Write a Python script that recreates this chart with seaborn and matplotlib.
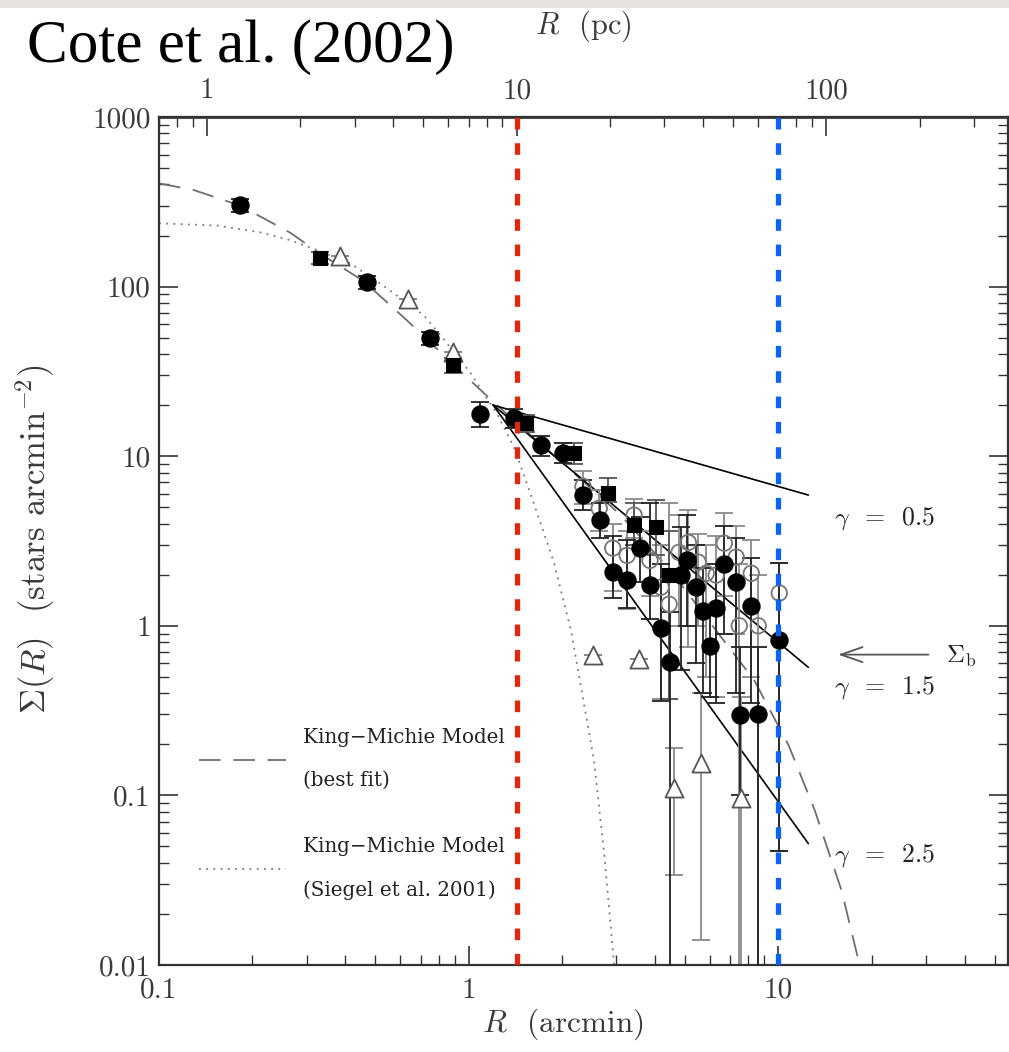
import matplotlib
matplotlib.use("Agg")
import matplotlib.pyplot as plt
import seaborn as sns
import numpy as np
import pandas as pd
from matplotlib.lines import Line2D
from matplotlib.patches import Rectangle

# ---------------- data ----------------
# filled circles (black)
fc_x = [0.183, 0.468, 0.748, 1.085, 1.40, 1.71, 2.01, 2.34, 2.66, 2.92, 3.25, 3.57, 3.85,
        4.18, 4.48, 4.85, 5.08, 5.43, 5.72, 6.03, 6.30, 6.69, 7.31, 8.18, 7.54, 8.61, 10.07]
fc_y = [301, 106, 49.6, 17.7, 16.7, 11.6, 10.5, 5.89, 4.19, 2.07, 1.85, 2.87, 1.73,
        0.97, 0.61, 1.99, 2.43, 1.69, 1.23, 0.757, 1.27, 2.31, 1.81, 1.30, 0.297, 0.30, 0.82]
fc_lo = [275, 97, 45, 14.8, 14.6, 10.0, 9.1, 4.8, 3.3, 1.45, 1.27, 1.8, 1.1,
         0.36, 0.0001, 0.55, 1.0, 0.6, 0.40, 0.38, 0.35, 0.9, 0.4, 0.35, 0.1, 0.0001, 0.047]
fc_hi = [328, 116, 54, 20.8, 19.0, 13.2, 12.0, 7.2, 5.3, 3.4, 3.2, 4.4, 5.3,
         2.3, 1.2, 3.8, 4.5, 3.0, 2.2, 1.3, 2.3, 3.9, 3.3, 2.5, 0.75, 0.75, 2.33]

# filled squares
sq_x = [0.332, 0.887, 1.53, 2.19, 2.82, 3.42, 4.03, 4.44]
sq_y = [147, 34.4, 15.6, 10.4, 6.04, 3.92, 3.81, 1.99]
sq_lo = [135, 31.0, 13.8, 9.0, 5.4, 3.0, 2.6, 0.37]
sq_hi = [160, 38.0, 17.6, 12.0, 7.4, 5.3, 5.5, 3.6]

# open circles
oc_x = [2.34, 2.64, 3.42, 2.92, 3.25, 3.85, 4.18, 4.44, 4.78, 5.12, 5.51, 5.85, 6.30,
        6.69, 7.31, 8.18, 7.48, 8.61, 10.07]
oc_y = [6.65, 4.93, 4.49, 2.87, 2.6, 2.43, 1.69, 1.34, 2.71, 3.1, 2.37, 2.04, 1.99,
        3.07, 2.54, 2.04, 1.0, 1.0, 1.56]
oc_lo = [5.2, 3.6, 3.3, 1.6, 1.25, 1.5, 0.37, 0.37, 1.0, 0.75, 1.0, 0.5, 0.38,
         1.5, 0.9, 0.5, 0.0001, 0.0001, 0.047]
oc_hi = [8.2, 6.3, 5.6, 4.0, 3.6, 3.6, 3.0, 5.3, 4.5, 4.8, 3.5, 3.0, 3.4,
         4.6, 3.9, 3.2, 2.3, 2.0, 2.33]

# open triangles
tr_x = [0.383, 0.635, 0.887, 2.52, 3.55, 4.61, 5.63, 7.59]
tr_y = [151, 84, 41, 0.67, 0.634, 0.110, 0.155, 0.096]
tr_lo = [151, 84, 41, 0.67, 0.634, 0.034, 0.014, 0.0001]
tr_hi = [151, 84, 41, 0.67, 0.634, 0.19, 0.40, 0.38]

# King-Michie model, best fit (dashed)
km_x = [0.1, 0.13, 0.183, 0.265, 0.332, 0.457, 0.616, 0.742, 0.887, 1.15, 1.5, 2.0,
        3.1, 4.5, 6.54, 8.36, 10.8, 13.1, 16.0, 18.3]
km_y = [406, 370, 300, 208, 156, 108, 66, 48, 35, 22.5, 14.5, 9.2,
        4.49, 2.1, 0.857, 0.477, 0.197, 0.082, 0.0275, 0.01]

# King-Michie model, Siegel et al. 2001 (dotted)
ks_x = [0.1, 0.154, 0.212, 0.265, 0.324, 0.415, 0.531, 0.715, 0.83, 1.015, 1.24, 1.40,
        1.56, 1.88, 2.14, 2.54, 2.74, 2.95]
ks_y = [236, 229, 209, 188, 164, 137, 101, 68, 49, 30.8, 17.5, 11.3,
        6.5, 2.4, 0.94, 0.16, 0.045, 0.01]

# power-law slopes (start, end)
pl_x = [1.2, 12.5]
g05_y = [20.0, 5.9]
g15_y = [20.0, 0.569]
g25_y = [20.0, 0.052]
gamma_labels = ["0.5", "1.5", "2.5"]

r_red = 10 / 7.0   # 10 pc
r_blue = 10.0      # 10 arcmin (70 pc)
pc_per_arcmin = 7.0

# ---------------- figure ----------------
sns.set_theme(style="ticks")
plt.rcParams["font.family"] = ["cmr10", "DejaVu Serif"]
plt.rcParams["mathtext.fontset"] = "cm"
plt.rcParams["axes.formatter.use_mathtext"] = True

TXT = "#3a3a3a"
fig = plt.figure(figsize=(10.09, 10.52), dpi=100)
fig.patch.set_facecolor("white")
fig.patches.append(Rectangle((0, 0.992), 1, 0.008, transform=fig.transFigure,
                             facecolor="#e6e3df", edgecolor="none"))
ax = fig.add_axes([0.1576, 0.0827, 0.8410, 0.8061])
ax.set_facecolor("white")
ax.set_xscale("log")
ax.set_yscale("log")
ax.set_xlim(0.1, 55)
ax.set_ylim(0.01, 1000)

# model curves
sns.lineplot(x=km_x, y=km_y, ax=ax, color="#6e6e6e", lw=1.3, sort=False,
             estimator=None, linestyle=(0, (12, 7)))
sns.lineplot(x=ks_x, y=ks_y, ax=ax, color="#777777", lw=1.3, sort=False,
             estimator=None, linestyle=(0, (1, 3)))
for gy in (g05_y, g15_y, g25_y):
    sns.lineplot(x=pl_x, y=gy, ax=ax, color="black", lw=1.2, estimator=None, sort=False)

# vertical reference lines
ax.axvline(r_red, color="#e3260e", lw=3.8, linestyle=(0, (2.2, 2.6)), zorder=6)
ax.axvline(r_blue, color="#0b63f2", lw=3.8, linestyle=(0, (2.2, 2.6)), zorder=6)

def ebar(x, y, lo, hi, color, z):
    y = np.asarray(y); lo = np.asarray(lo); hi = np.asarray(hi)
    ax.errorbar(x, y, yerr=[y - lo, hi - y], fmt="none", ecolor=color,
                elinewidth=1.3, capsize=6.5, capthick=1.3, zorder=z)

ebar(tr_x, tr_y, tr_lo, tr_hi, "#8a8a8a", 2)
ebar(oc_x, oc_y, oc_lo, oc_hi, "#8a8a8a", 2)
ebar(sq_x, sq_y, sq_lo, sq_hi, "#555555", 3)
ebar(fc_x, fc_y, fc_lo, fc_hi, "#222222", 3)

sns.scatterplot(x=tr_x, y=tr_y, ax=ax, marker="^", s=170, facecolor="white",
                edgecolor="#555555", linewidth=1.3, zorder=4)
sns.scatterplot(x=oc_x, y=oc_y, ax=ax, marker="o", s=125, facecolor="none",
                edgecolor="#777777", linewidth=1.3, zorder=4)
sns.scatterplot(x=sq_x, y=sq_y, ax=ax, marker="s", s=95, color="black",
                edgecolor="black", zorder=5)
sns.scatterplot(x=fc_x, y=fc_y, ax=ax, marker="o", s=150, color="black",
                edgecolor="black", zorder=5)

# legend for models
handles = [Line2D([], [], color="#6e6e6e", lw=1.3, linestyle=(0, (12, 7))),
           Line2D([], [], color="#777777", lw=1.3, linestyle=(0, (1, 3)))]
labels = ["King\u2212Michie Model\n(best fit)", "King\u2212Michie Model\n(Siegel et al. 2001)"]
leg = ax.legend(handles, labels, loc="upper left", bbox_to_anchor=(0.026, 0.30),
                frameon=False, handlelength=4.4, handletextpad=0.85, labelspacing=2.4,
                prop={"family": ["DejaVu Serif"], "size": 14.3})
for t in leg.get_texts():
    t.set_linespacing(2.55)
    t.set_color("#222222")

# gamma labels and Sigma_b arrow
gy_frac = [0.527, 0.327, 0.129]
for lab, yf in zip(gamma_labels, gy_frac):
    ax.text(0.796, yf, r"$\gamma$  =  " + lab, transform=ax.transAxes, fontsize=18.5,
            va="center", ha="left", color="#222222")
ax.annotate("", xy=(0.797, 0.366), xytext=(0.910, 0.366), xycoords="axes fraction",
            arrowprops=dict(arrowstyle="->,head_length=1.3,head_width=0.45",
                            color="#555555", lw=1.3))
ax.text(0.928, 0.364, r"$\Sigma_{\rm b}$", transform=ax.transAxes, fontsize=18,
        va="center", ha="left", color="#222222")

# axes style
for sp in ax.spines.values():
    sp.set_color("#333333")
    sp.set_linewidth(1.6)
ax.tick_params(which="both", direction="in", top=False, right=True,
               labelsize=21, colors="#333333", labelcolor=TXT)
ax.tick_params(which="major", length=14, width=1.2, pad=9)
ax.tick_params(which="minor", length=7, width=1.0)
ax.set_xticks([0.1, 1, 10])
ax.set_xticklabels(["0.1", "1", "10"])
ax.set_yticks([0.01, 0.1, 1, 10, 100, 1000])
ax.set_yticklabels(["0.01", "0.1", "1", "10", "100", "1000"])
ax.tick_params(axis="y", pad=6)

sec = ax.secondary_xaxis("top", functions=(lambda r: r * pc_per_arcmin,
                                           lambda p: p / pc_per_arcmin))
sec.set_xticks([1, 10, 100])
sec.set_xticklabels(["1", "10", "100"])
sec.tick_params(which="both", direction="in", labelsize=21, colors="#333333",
                labelcolor=TXT)
sec.tick_params(which="major", length=14, width=1.2, pad=9)
sec.tick_params(which="minor", length=7, width=1.0)
sec.spines["top"].set_color("#555555")
sec.spines["top"].set_linewidth(2.2)

ax.set_xlabel("")
ax.set_ylabel("")
fig.text(0.558, 0.026, r"$R$  (arcmin)", ha="center", va="center", fontsize=22.5, color=TXT)
fig.text(0.578, 0.975, r"$R$  (pc)", ha="center", va="center", fontsize=22, color=TXT)
fig.text(0.035, 0.487, r"$\Sigma(R)$  (stars arcmin$^{-2}$)", ha="center", va="center",
         rotation=90, fontsize=25, color=TXT)
fig.text(0.027, 0.941, "Cote et al. (2002)", ha="left", va="baseline",
         fontsize=44, family=["Liberation Serif"], color="black")

fig.savefig("out.png", dpi=100, facecolor="white")
